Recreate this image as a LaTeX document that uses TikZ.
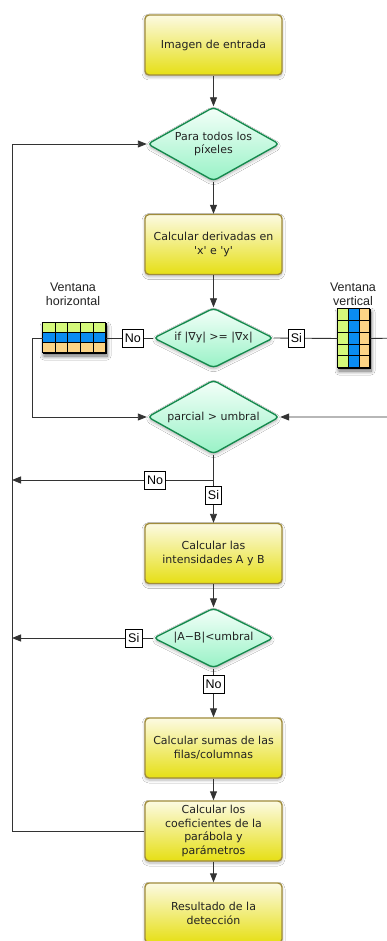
\documentclass[tikz,border=0pt]{standalone}
\usepackage{fontspec}
\setmainfont{DejaVu Sans}[Ligatures=TeXOff]
\newfontfamily\lblfont{Liberation Sans}[Ligatures=TeXOff]
\usetikzlibrary{shapes.geometric,arrows.meta,shadows.blur}

\definecolor{boxtop}{HTML}{FCFAE2}
\definecolor{boxbot}{HTML}{E6DF14}
\definecolor{boxedge}{HTML}{A08C3C}
\definecolor{dtop}{HTML}{F4FFF9}
\definecolor{dbot}{HTML}{98F2C6}
\definecolor{dedge}{HTML}{168A4E}
\definecolor{cgreen}{HTML}{D4F87A}
\definecolor{cblue}{HTML}{0A8CF2}
\definecolor{corange}{HTML}{FCD486}
\definecolor{wire}{HTML}{333333}
\definecolor{ink}{HTML}{222222}

\begin{document}
\begin{tikzpicture}[x=1pt,y=-1pt,
  softshadow/.style={blur shadow={shadow xshift=0pt, shadow yshift=-2pt,
      shadow blur radius=3pt, shadow blur steps=6, shadow opacity=30}},
  stepbox/.style={rectangle, rounded corners=4pt, draw=boxedge, line width=1.4pt,
      top color=boxtop, bottom color=boxbot, minimum width=137pt, minimum height=60pt,
      inner sep=0pt, align=center, font=\fontsize{11}{13.9}\selectfont, text=ink, softshadow},
  test/.style={diamond, rounded corners=4pt, draw=dedge, line width=1.4pt,
      top color=dtop, bottom color=dbot, inner sep=0pt, align=center,
      font=\fontsize{11}{13.9}\selectfont, text=ink, softshadow},
  bigtest/.style={test, aspect=1.78, minimum width=132pt, minimum height=74pt},
  smalltest/.style={test, aspect=2, minimum width=120pt, minimum height=60pt},
  lbl/.style={draw=black, line width=0.7pt, fill=white, inner xsep=2.6pt, inner ysep=0pt,
      minimum height=18pt, font=\lblfont\fontsize{12.5}{14}\selectfont, text=black},
  caption/.style={align=center, inner sep=0pt, font=\lblfont\fontsize{12.5}{14}\selectfont, text=ink},
  winbox/.style={rectangle, draw=black, line width=0.8pt, fill=white, inner sep=0pt,
      blur shadow={shadow xshift=1pt, shadow yshift=-3pt, shadow blur radius=4pt,
      shadow blur steps=8, shadow opacity=60}},
  cell/.style={draw=black, line width=0.8pt},
  wire/.style={draw=wire, line width=0.9pt},
  arr/.style={wire, -{Triangle[length=9pt,width=7pt]}}]

\useasboundingbox (0,0) rectangle (387,941);
\clip (0,0) rectangle (387,941);
\fill[white] (0,0) rectangle (387,941);

% main column
\node[stepbox] (b1) at (213.5,45) {Imagen de entrada};
\node[bigtest] (d1) at (213.5,144) {Para todos los\\píxeles};
\node[stepbox] (b2) at (213.5,244.5) {Calcular derivadas en\\'x' e 'y'};
\node[smalltest] (d2) at (213.5,338) {if |∇y| >= |∇x|};
\node[bigtest] (d3) at (213.5,417) {parcial > umbral};
\node[stepbox] (b4) at (213.5,553.5) {Calcular las\\intensidades A y B};
\node[smalltest] (d4) at (213.5,638) {|A−B|<umbral};
\node[stepbox] (b5) at (213.5,748) {Calcular sumas de las\\filas/columnas};
\node[stepbox] (b6) at (213.5,831) {Calcular los\\coeficientes de la\\parábola y\\parámetros};
\node[stepbox] (b7) at (213.5,913) {Resultado de la\\detección};

% window sketches
\node[winbox, minimum width=63pt, minimum height=30pt] (wh) at (74.5,338) {};
\begin{scope}[shift={(wh.north west)}]
  \foreach \c [count=\r from 0] in {cgreen,cblue,corange}
    \foreach \i in {0,...,4}
      \draw[cell, fill=\c] (\i*12.6,\r*10) rectangle ++(12.6,10);
\end{scope}
\node[caption] (th) at (73,294) {Ventana\\horizontal};

\node[winbox, minimum width=32pt, minimum height=59pt] (wv) at (354,338.5) {};
\begin{scope}[shift={(wv.north west)}]
  \foreach \c [count=\k from 0] in {cgreen,cblue,corange}
    \foreach \j in {0,...,4}
      \draw[cell, fill=\c] (\k*10.667,\j*11.8) rectangle ++(10.667,11.8);
\end{scope}
\node[caption] (tv) at (353,294) {Ventana\\vertical};

% routing points
\coordinate (j) at (213.5,480);
\coordinate (outNo) at (12,480);
\coordinate (outSi) at (12,638);
\coordinate (loopB) at (12,831);
\coordinate (hturn) at (32,338);
\coordinate (vturn) at (400,338);

% connectors
\draw[arr] (b1) -- (d1);
\draw[arr] (d1) -- (b2);
\draw[arr] (b2) -- (d2);
\draw[wire] (d2.west) -- node[lbl, pos=0.43] {No} (wh.east);
\draw[wire] (d2.east) -- node[lbl, pos=0.35] {Si} (wv.west);
\draw[arr] (wh.west) -- (hturn) |- (d3.west);
\draw[arr] (wv.east) -- (vturn) |- (d3.east);
\draw[wire] (d3.south) -- (j);
\draw[arr] (j) -- node[lbl, pos=0.29] {No} (outNo);
\draw[arr] (j) -- node[lbl, pos=0.35] {Si} (b4.north);
\draw[arr] (b4) -- (d4);
\draw[arr] (d4.west) -- node[lbl, pos=0.135] {Si} (outSi);
\draw[arr] (d4) -- node[lbl, pos=0.32] {No} (b5);
\draw[arr] (b5) -- (b6);
\draw[arr] (b6) -- (b7);
\draw[arr] (b6.west) -- (loopB) |- (d1.west);
\end{tikzpicture}
\end{document}
